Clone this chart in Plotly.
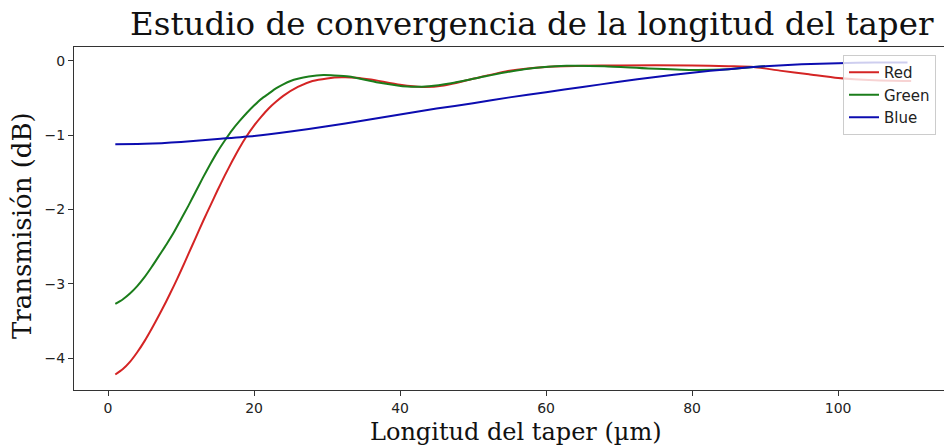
import plotly.graph_objects as go

# Transmission (dB) versus taper length (um) for each colour channel
red_x = [1, 2, 3, 4, 5, 6, 7, 8, 9, 10, 11, 12, 13, 14, 15, 16, 17, 18, 19, 20, 21, 22, 23,
         24, 26, 28, 30, 32, 34, 36, 40, 43, 46, 50, 55, 60, 65, 70, 80, 85, 88.4, 92, 96,
         100, 105, 110]
red_y = [-4.22, -4.15, -4.05, -3.92, -3.77, -3.60, -3.42, -3.23, -3.03, -2.82, -2.60, -2.38,
         -2.16, -1.95, -1.74, -1.54, -1.35, -1.17, -1.01, -0.87, -0.75, -0.64, -0.55, -0.47,
         -0.35, -0.27, -0.235, -0.22, -0.225, -0.25, -0.32, -0.35, -0.33, -0.24, -0.13,
         -0.08, -0.065, -0.06, -0.06, -0.07, -0.08, -0.13, -0.18, -0.23, -0.26, -0.27]

green_x = [1, 2, 3, 4, 5, 6, 7, 8, 9, 10, 11, 12, 13, 14, 15, 16, 17, 18, 19, 20, 21, 22, 23,
           24, 25, 26, 27.5, 29.5, 31, 33, 37, 41, 44, 47, 52, 57, 62.8, 68, 74, 80, 85,
           88.4, 90]
green_y = [-3.27, -3.21, -3.13, -3.03, -2.91, -2.77, -2.62, -2.47, -2.31, -2.13, -1.95, -1.76,
           -1.57, -1.39, -1.22, -1.07, -0.93, -0.81, -0.70, -0.60, -0.51, -0.44, -0.37,
           -0.315, -0.27, -0.24, -0.21, -0.19, -0.195, -0.21, -0.29, -0.345, -0.34, -0.30,
           -0.20, -0.11, -0.065, -0.07, -0.10, -0.12, -0.11, -0.08, -0.07]

blue_x = [1, 5, 10, 15, 20, 25, 30, 35, 40, 45, 50, 55, 60, 65, 70, 75, 80, 85, 90, 95,
          100, 105, 109.5]
blue_y = [-1.12, -1.115, -1.09, -1.05, -1.01, -0.95, -0.88, -0.80, -0.72, -0.64, -0.57,
          -0.49, -0.42, -0.35, -0.28, -0.215, -0.157, -0.11, -0.07, -0.045, -0.03, -0.02,
          -0.02]

x_ticks = [0, 20, 40, 60, 80, 100]
y_ticks = [0, -1, -2, -3, -4]

SERIF = "DejaVu Serif"
SANS = "DejaVu Sans"

# plot-area geometry in pixels (used to place text in paper coordinates)
W, H = 944, 448
L, R, T, B = 74, 0, 47, 58
PW, PH = W - L - R, H - T - B


def px(x):
    return (x - L) / PW


def py(y):
    return (H - B - y) / PH


fig = go.Figure()
for name, xs, ys, col in [
    ("Red", red_x, red_y, "#d42424"),
    ("Green", green_x, green_y, "#1b7d1b"),
    ("Blue", blue_x, blue_y, "#0c0cb0"),
]:
    fig.add_trace(go.Scatter(x=xs, y=ys, mode="lines", name=name,
                             line=dict(color=col, width=2, shape="spline", smoothing=0.6)))

axis_common = dict(showgrid=False, zeroline=False, showline=True, linecolor="#333",
                   linewidth=1, ticks="outside", ticklen=5, tickcolor="#333",
                   tickfont=dict(family=SANS, size=14, color="#222"))

fig.update_layout(
    width=W, height=H,
    margin=dict(l=L, r=R, t=T, b=B),
    paper_bgcolor="white", plot_bgcolor="white",
    xaxis=dict(range=[-4.66, 114.5], tickvals=x_ticks, mirror=True, **axis_common),
    yaxis=dict(range=[-4.428, 0.188], tickvals=y_ticks, **axis_common),
    showlegend=True,
    legend=dict(x=px(843), y=py(55), xanchor="left", yanchor="top",
                bgcolor="rgba(255,255,255,0.8)", bordercolor="#cccccc", borderwidth=1,
                font=dict(family=SANS, size=15, color="#222")),
    annotations=[
        dict(text="Estudio de convergencia de la longitud del taper", xref="paper", yref="paper",
             x=px(532), y=py(45), xanchor="center", yanchor="bottom", showarrow=False,
             font=dict(family=SERIF, size=32.5, color="#111")),
        dict(text="Longitud del taper (µm)", xref="paper", yref="paper",
             x=px(516), y=py(432), xanchor="center", yanchor="middle", showarrow=False,
             font=dict(family=SERIF, size=24, color="#111")),
        dict(text="Transmisión (dB)", xref="paper", yref="paper", textangle=-90,
             x=px(22), y=py(226), xanchor="center", yanchor="middle", showarrow=False,
             font=dict(family=SERIF, size=26, color="#111")),
    ],
)

fig.write_html("out.html")
